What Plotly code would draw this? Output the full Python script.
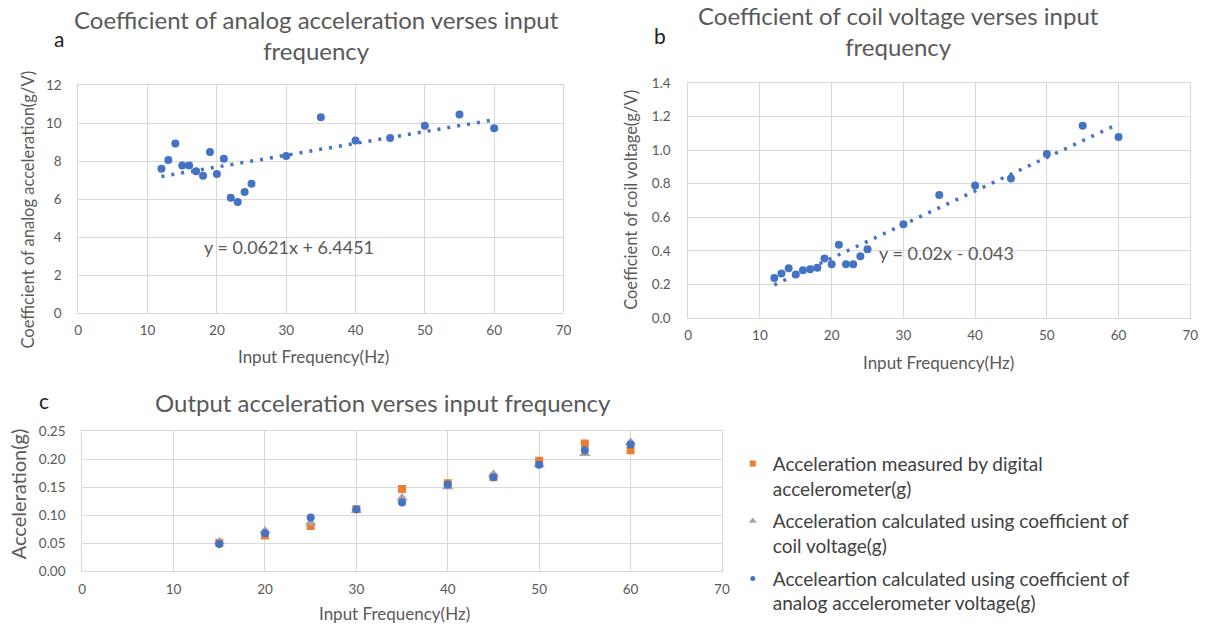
import plotly.graph_objects as go

# ---------------- data ----------------
freq_a = [12, 13, 14, 15, 16, 17, 18, 19, 20, 21, 22, 23, 24, 25, 30, 35, 40, 45, 50, 55, 60]
coef_a = [7.6, 8.05, 8.92, 7.76, 7.76, 7.47, 7.23, 8.48, 7.32, 8.12, 6.07, 5.85, 6.37, 6.8,
          8.26, 10.3, 9.08, 9.21, 9.86, 10.45, 9.73]
trend_a = (0.0621, 6.4451)

freq_b = [12, 13, 14, 15, 16, 17, 18, 19, 20, 21, 22, 23, 24, 25, 30, 35, 40, 45, 50, 55, 60]
coef_b = [0.238, 0.265, 0.296, 0.26, 0.285, 0.29, 0.30, 0.355, 0.32, 0.436, 0.32, 0.32, 0.368,
          0.41, 0.558, 0.733, 0.79, 0.831, 0.978, 1.145, 1.079]
trend_b = (0.02, -0.043)
trend_x = [12, 60]

freq_c = [15, 20, 25, 30, 35, 40, 45, 50, 55, 60]
acc_digital = [0.051, 0.064, 0.081, 0.111, 0.147, 0.157, 0.168, 0.197, 0.228, 0.216]
acc_coil = [0.053, 0.072, 0.087, 0.109, 0.131, 0.151, 0.173, 0.19, 0.21, 0.23]
acc_analog = [0.049, 0.068, 0.096, 0.111, 0.123, 0.155, 0.168, 0.19, 0.216, 0.226]

names_c = ["Acceleration measured by digital<br>accelerometer(g)",
           "Acceleration calculated using coefficient of<br>coil voltage(g)",
           "Acceleartion calculated using coefficient of<br>analog accelerometer voltage(g)"]

W, H = 1225, 637
FONT = "Lato"
GRAY = "#595959"
BLUE = "#4472C4"
ORANGE = "#ED7D31"
LGRAY = "#A5A5A5"
GRID = "#D9D9D9"

def px(x):
    return x / W

def py(y):
    return 1 - y / H

fig = go.Figure()

# panel a
fig.add_trace(go.Scatter(x=trend_x, y=[trend_a[0] * v + trend_a[1] for v in trend_x],
                         mode="lines", line=dict(color=BLUE, width=3.5, dash="3px,7px"),
                         xaxis="x", yaxis="y", showlegend=False, hoverinfo="skip"))
fig.add_trace(go.Scatter(x=freq_a, y=coef_a, mode="markers",
                         marker=dict(color=BLUE, size=8), xaxis="x", yaxis="y", showlegend=False))
# panel b
fig.add_trace(go.Scatter(x=trend_x, y=[trend_b[0] * v + trend_b[1] for v in trend_x],
                         mode="lines", line=dict(color=BLUE, width=3.5, dash="3px,7px"),
                         xaxis="x2", yaxis="y2", showlegend=False, hoverinfo="skip"))
fig.add_trace(go.Scatter(x=freq_b, y=coef_b, mode="markers",
                         marker=dict(color=BLUE, size=8), xaxis="x2", yaxis="y2", showlegend=False))
# panel c
styles = [dict(color=ORANGE, symbol="square"), dict(color=LGRAY, symbol="triangle-up"),
          dict(color=BLUE, symbol="circle")]
sizes = [8, 10, 8]
legend_sizes = [6, 7, 5]
for i, vals in enumerate([acc_digital, acc_coil, acc_analog]):
    fig.add_trace(go.Scatter(x=freq_c, y=vals, mode="markers", name=names_c[i],
                             marker=dict(size=sizes[i], **styles[i]), xaxis="x3", yaxis="y3",
                             showlegend=False))
for i in range(3):
    fig.add_trace(go.Scatter(x=[None], y=[None], mode="markers", name=names_c[i],
                             legendgroup=f"g{i}",
                             marker=dict(size=legend_sizes[i], **styles[i]),
                             xaxis="x3", yaxis="y3", showlegend=True))

def axis(domain, rng, dtick, fmt=None, anchor=None, standoff=5):
    d = dict(domain=domain, range=rng, dtick=dtick, tick0=0, showgrid=True, gridcolor=GRID,
             gridwidth=1, zeroline=False, showline=True, linecolor=GRID, mirror=True,
             ticks="", tickfont=dict(family=FONT, size=13.5, color=GRAY), anchor=anchor,
             fixedrange=True, ticklabelstandoff=standoff)
    if fmt:
        d["tickformat"] = fmt
    return d

fig.update_layout(
    width=W, height=H, margin=dict(l=0, r=0, t=0, b=0),
    paper_bgcolor="white", plot_bgcolor="white",
    font=dict(family=FONT, color=GRAY),
    xaxis=axis([px(75), px(565)], [0, 70], 10, anchor="y"),
    yaxis=axis([py(313), py(79)], [0, 12], 2, anchor="x", standoff=13),
    xaxis2=axis([px(691), px(1198)], [0, 70], 10, anchor="y2"),
    yaxis2=axis([py(318), py(77)], [0, 1.4], 0.2, ".1f", anchor="x2", standoff=14),
    xaxis3=axis([px(79), px(725)], [0, 70], 10, anchor="y3"),
    yaxis3=axis([py(578), py(434)], [0, 0.25], 0.05, ".2f", anchor="x3", standoff=13),
    legend=dict(x=px(736), y=py(448), xanchor="left", yanchor="top", valign="top",
                font=dict(family=FONT, size=19, color="#404040"),
                itemsizing="trace", tracegroupgap=5, bgcolor="rgba(0,0,0,0)"),
    showlegend=True,
)

ann = []
def text(x, y, s, size, color=GRAY, angle=0):
    ann.append(dict(x=px(x), y=py(y), xref="paper", yref="paper", text=s, showarrow=False,
                    xanchor="center", yanchor="middle", textangle=angle,
                    font=dict(family=FONT, size=size, color=color)))

# titles
text(316, 28, "Coefficient of analog acceleration verses input<br>frequency", 24)
text(903, 24, "Coefficient of coil voltage verses input<br>frequency", 24)
text(383, 405, "Output acceleration verses input frequency", 24)
# panel labels
text(56, 31, "a", 21, "#222222")
text(662, 28, "b", 21, "#222222")
text(40, 403, "c", 21, "#222222")
# axis titles
text(313, 357, "Input Frequency(Hz)", 17)
text(944, 364, "Input Frequency(Hz)", 17)
text(394, 621, "Input Frequency(Hz)", 17)
text(24, 207, "Coefficient of analog acceleration(g/V)", 16.5, angle=-90)
text(633, 197, "Coefficient of coil voltage(g/V)", 16.5, angle=-90)
text(15, 498, "Acceleration(g)", 20, angle=-90)
# equations
text(288, 245, "y = 0.0621x + 6.4451", 18)
text(952, 251, "y = 0.02x - 0.043", 18)

fig.update_layout(annotations=ann)
fig.write_html("out.html")
